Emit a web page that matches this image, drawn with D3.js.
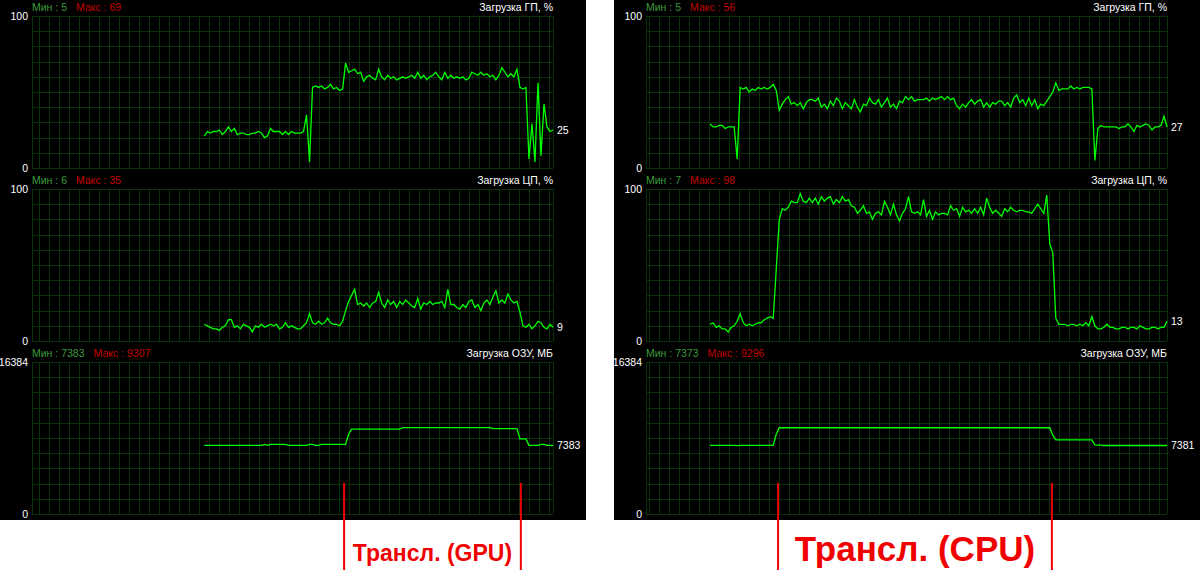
<!DOCTYPE html>
<html><head><meta charset="utf-8">
<script src="https://cdn.jsdelivr.net/npm/d3@7"></script>
<style>
html,body{margin:0;padding:0;background:#fff;}
svg{display:block;}
</style></head>
<body>
<svg id="c" width="1200" height="580"></svg>
<script>
// ---------- DATA ----------
const chartTitles = ["Загрузка ГП, %", "Загрузка ЦП, %", "Загрузка ОЗУ, МБ"];
const yMaxLabels = ["100", "100", "16384"];
const yMaxValues = [100, 100, 16384];
const yMinLabels = ["0", "0", "0"];

const minLeft = [5, 6, 7383];
const maxLeft = [69, 35, 9307];
const minRight = [5, 7, 7373];
const maxRight = [56, 98, 9296];

const gpuLeft = [
  21,24,23,24,24,25,22,24,27,24,
  26,22,23,23,22,22,23,23,24,23,
  20,21,26,24,24,24,22,24,22,24,
  23,23,23,24,35,4,53,54,53,54,
  52,53,55,52,53,51,52,69,63,64,
  65,62,63,57,60,61,59,58,65,60,
  58,61,59,60,58,59,60,59,60,61,
  59,63,59,61,58,60,61,63,60,58,
  63,59,61,59,60,59,60,58,59,63,
  62,61,63,61,62,60,61,58,61,66,
  63,60,62,60,65,53,52,53,6,29,
  4,56,8,42,27,24,25
];
const cpuLeft = [
  11,10,9,8,8,7,9,10,14,14,
  9,10,8,11,10,9,6,10,9,11,
  9,10,11,10,11,8,9,12,9,10,
  9,8,8,10,12,18,12,11,13,11,
  12,15,12,11,11,10,13,20,26,30,
  34,24,25,23,25,22,25,26,32,25,
  22,27,24,26,22,26,24,27,25,23,
  22,28,21,25,24,26,24,25,25,26,
  22,34,24,24,22,21,24,22,26,27,
  22,24,20,25,27,24,29,33,25,27,
  25,31,27,25,26,19,10,9,11,8,
  10,13,12,9,8,11,9
];
const ramLeft = [
  7400,7400,7400,7400,7400,7400,7400,7400,7400,7400,
  7400,7400,7400,7400,7400,7400,7400,7400,7400,7400,
  7500,7400,7500,7500,7500,7500,7500,7500,7400,7400,
  7400,7400,7400,7400,7400,7500,7500,7400,7400,7500,
  7500,7500,7500,7500,7500,7500,7500,7500,8600,9150,
  9150,9150,9150,9150,9150,9150,9150,9150,9150,9150,
  9150,9150,9150,9150,9150,9150,9300,9300,9300,9300,
  9300,9300,9300,9300,9300,9300,9300,9300,9300,9300,
  9300,9300,9300,9300,9300,9300,9300,9300,9300,9300,
  9300,9300,9300,9300,9300,9300,9200,9200,9200,9200,
  9200,9200,9200,9200,9200,8100,8100,8100,7400,7400,
  7400,7400,7500,7500,7400,7400,7383
];

const gpuRight = [
  29,27,27,28,28,26,27,27,27,6,
  53,52,53,50,52,51,53,52,53,52,
  53,55,51,38,42,45,47,42,43,41,
  43,39,43,45,45,44,46,40,42,39,
  44,41,46,44,39,43,41,39,45,40,
  37,42,41,46,43,42,45,40,43,46,
  40,42,39,44,43,47,45,47,44,45,
  45,45,46,44,46,45,46,47,45,47,
  45,46,41,39,42,40,43,45,42,44,
  45,40,43,40,43,42,44,44,41,43,
  40,46,48,43,45,41,46,41,45,39,
  42,41,44,47,50,56,51,52,52,52,
  54,52,53,52,53,53,53,52,5,26,
  28,27,27,27,27,27,26,27,27,29,
  27,24,28,27,28,29,28,25,27,27,
  28,34,27
];
const cpuRight = [
  11,12,9,10,8,8,6,9,10,13,
  18,12,10,11,10,11,12,12,14,15,
  16,15,47,80,87,86,88,92,91,91,
  97,92,91,94,91,94,90,95,92,94,
  95,90,93,91,95,92,93,89,88,84,
  86,89,84,85,80,84,85,83,92,88,
  83,90,83,79,84,87,95,85,84,85,
  83,93,82,86,80,85,83,84,84,83,
  89,86,87,82,88,85,86,84,87,84,
  88,83,94,88,84,86,84,82,87,85,
  88,86,85,86,86,85,85,84,87,90,
  87,84,96,64,58,15,11,11,11,10,
  11,11,10,11,10,12,10,16,10,8,
  8,9,11,9,9,8,8,9,9,8,
  9,9,8,10,9,8,8,9,9,8,
  9,9,13
];
const ramRight = [
  7400,7400,7400,7400,7400,7400,7400,7400,7400,7373,
  7400,7400,7400,7400,7400,7400,7400,7400,7400,7400,
  7400,7400,8600,9296,9296,9296,9296,9296,9296,9296,
  9296,9296,9296,9296,9296,9296,9296,9296,9296,9296,
  9296,9296,9296,9296,9296,9296,9296,9296,9296,9296,
  9296,9296,9296,9296,9296,9296,9296,9296,9296,9296,
  9296,9296,9296,9296,9296,9296,9296,9296,9296,9296,
  9296,9296,9296,9296,9296,9296,9296,9296,9296,9296,
  9296,9296,9296,9296,9296,9296,9296,9296,9296,9296,
  9296,9296,9296,9296,9296,9296,9296,9296,9296,9296,
  9296,9296,9296,9296,9296,9296,9296,9296,9296,9296,
  9296,9296,9296,9296,8500,7980,7980,7980,7980,7980,
  7980,7980,7980,7980,7980,7980,7980,7980,7450,7420,
  7420,7381,7381,7381,7381,7381,7381,7381,7381,7381,
  7381,7381,7381,7381,7381,7381,7381,7381,7381,7381,
  7381,7381,7381
];

// markers: index (within the data arrays) where transcoding starts / ends
const markerLeft = [46.5, 105.3];
const markerRight = [22.6, 113.7];
const markerLabels = ["Трансл. (GPU)", "Трансл. (CPU)"];

// ---------- LAYOUT ----------
const CAP = 173;                 // samples visible across the plot
const PANEL_W = 586, PANEL_H = 520;
const panelX = [0, 614];
const PL = 32, PR = 553;         // plot left/right inside panel
const chartTop = [16, 189, 362], CH = 152;
const gridOffset = [4, 7.7];     // vertical grid phase from the right edge
const markerFont = [23, 35];
const GRID = "#0a320a";

const panels = [
  {series:[gpuLeft, cpuLeft, ramLeft], mins:minLeft, maxs:maxLeft, markers:markerLeft},
  {series:[gpuRight, cpuRight, ramRight], mins:minRight, maxs:maxRight, markers:markerRight}
];

const svg = d3.select("#c");
const FONT = "'Liberation Sans', Arial, sans-serif";

panels.forEach((p, pi) => {
  const g = svg.append("g").attr("transform", `translate(${panelX[pi]},0)`);
  g.append("rect").attr("width", PANEL_W).attr("height", PANEL_H).attr("fill", "#000");

  const x = d3.scaleLinear().domain([0, CAP]).range([PL + 1, PR]);

  p.series.forEach((data, ci) => {
    const top = chartTop[ci];
    const y = d3.scaleLinear().domain([0, yMaxValues[ci]]).range([top + CH, top]);
    const cg = g.append("g");

    // horizontal grid
    const hTicks = d3.range(0, 11).map(t => yMaxValues[ci] * t / 10);
    cg.selectAll("line.h").data(hTicks).join("line")
      .attr("x1", PL).attr("x2", PR)
      .attr("y1", d => Math.round(y(d)) + 0.5).attr("y2", d => Math.round(y(d)) + 0.5)
      .attr("stroke", GRID).attr("stroke-width", 1);
    // vertical grid
    const vx = [];
    for (let xx = PR - gridOffset[pi]; xx > PL + 2; xx -= 10) vx.push(xx);
    vx.push(PL, PR);
    cg.selectAll("line.v").data(vx).join("line")
      .attr("x1", d => Math.round(d) + 0.5).attr("x2", d => Math.round(d) + 0.5)
      .attr("y1", top).attr("y2", top + CH)
      .attr("stroke", GRID).attr("stroke-width", 1);

    // data line
    const s0 = CAP - (data.length - 1);
    const line = d3.line().x((d, i) => x(s0 + i)).y(d => y(d));
    cg.append("path").datum(data).attr("d", line)
      .attr("fill", "none").attr("stroke", "#00ff00").attr("stroke-width", 1.3)
      .attr("stroke-linejoin", "miter");

    // axis labels
    cg.append("text").attr("x", PL - 4).attr("y", top).attr("dy", "0.35em")
      .attr("text-anchor", "end").attr("fill", "#fff")
      .attr("font-family", FONT).attr("font-size", 10.5).text(yMaxLabels[ci]);
    cg.append("text").attr("x", PL - 4).attr("y", top + CH).attr("dy", "0.35em")
      .attr("text-anchor", "end").attr("fill", "#fff")
      .attr("font-family", FONT).attr("font-size", 10.5).text(yMinLabels[ci]);

    // header
    const hdr = cg.append("text").attr("x", PL).attr("y", top - 9).attr("dy", "0.35em")
      .attr("font-family", FONT).attr("font-size", 10.5);
    hdr.append("tspan").attr("fill", "#3c9a3c").text(`Мин : ${p.mins[ci]}`);
    hdr.append("tspan").attr("dx", 9).attr("fill", "#c40000").text(`Макс : ${p.maxs[ci]}`);
    cg.append("text").attr("x", PR).attr("y", top - 9).attr("dy", "0.35em")
      .attr("text-anchor", "end").attr("fill", "#fff")
      .attr("font-family", FONT).attr("font-size", 10.5).text(chartTitles[ci]);

    // current value
    const last = data[data.length - 1];
    cg.append("text").attr("x", PR + 4).attr("y", y(last)).attr("dy", "0.35em")
      .attr("fill", "#fff").attr("font-family", FONT).attr("font-size", 10.5).text(last);
  });

  // markers
  const s0 = CAP - (p.series[0].length - 1);
  p.markers.forEach(m => {
    g.append("line").attr("x1", x(s0 + m)).attr("x2", x(s0 + m))
      .attr("y1", 483).attr("y2", 570).attr("stroke", "#f00000").attr("stroke-width", 2);
  });
  const mid = (x(s0 + p.markers[0]) + x(s0 + p.markers[1])) / 2;
  g.append("text").attr("x", mid).attr("y", 561).attr("text-anchor", "middle")
    .attr("fill", "#f00000").attr("font-family", FONT).attr("font-weight", "bold")
    .attr("font-size", markerFont[pi]).text(markerLabels[pi]);
});
</script>
</body></html>
